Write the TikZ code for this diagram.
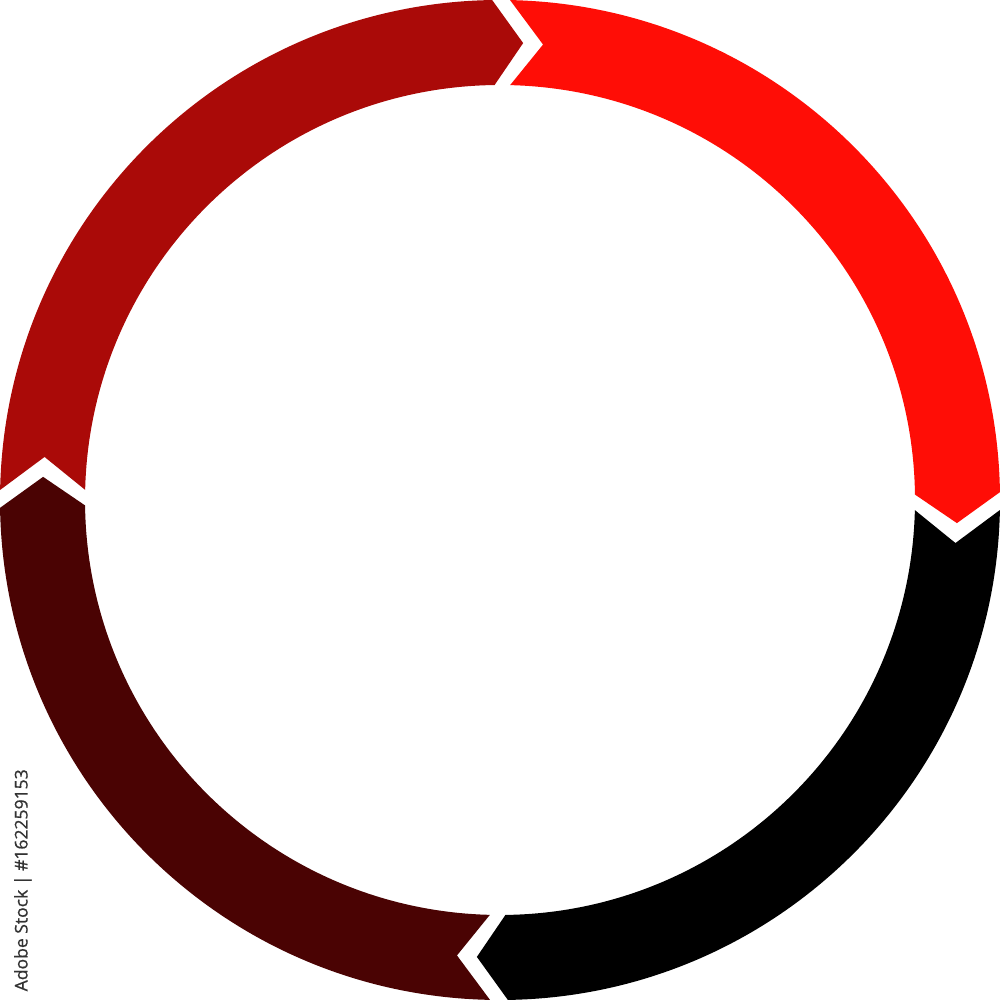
\documentclass[tikz,border=0pt]{standalone}
\usepackage{fontspec}
\setsansfont{Open Sans}[FakeBold=0.8]
\usepackage{graphicx}
\definecolor{segA}{HTML}{AA0A08}
\definecolor{segB}{HTML}{FF0D06}
\definecolor{segC}{HTML}{000000}
\definecolor{segD}{HTML}{4A0303}
\definecolor{wm}{HTML}{333333}
\tikzset{
  seg/.style={fill=#1, draw=none},
  wmtext/.style={rotate=90, anchor=base west, inner sep=0pt, text=wm, font=\sffamily}
}
\begin{document}
\begin{tikzpicture}
\useasboundingbox (0,0) rectangle (10,10);
\fill[white] (0,0) rectangle (10,10);
\begin{scope}[shift={(5,5)}]
\foreach \a/\c in {180/segA, 90/segB, 0/segC, -90/segD}{
  \fill[seg=\c] ({\a-1.15}:5) arc[start angle={\a-1.15}, end angle={\a-89.1}, radius=5]
     -- ({\a-92.9}:4.575)
     -- ({\a-89.25}:4.15) arc[start angle={\a-89.25}, end angle={\a-1.4}, radius=4.15]
     -- ({\a-5.4}:4.575) -- cycle;
}
\end{scope}
\node[wmtext] (wm) at (0.275,0.08) {\resizebox{2.22cm}{!}{Adobe Stock | \#162259153}};
\end{tikzpicture}
\end{document}
